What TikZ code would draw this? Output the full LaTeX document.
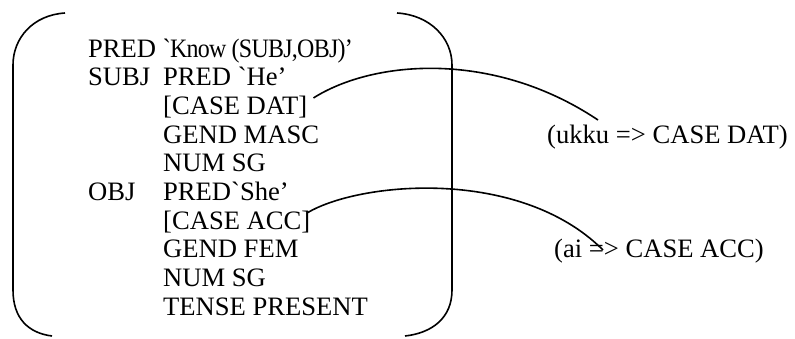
\documentclass[tikz,border=0pt]{standalone}
\usepackage{fontspec}
\usepackage{graphicx}
\newfontfamily\tnr{Liberation Serif}
\newfontfamily\tnrtight{Liberation Serif}[LetterSpace=-3]
\usetikzlibrary{calc}
\tikzset{
  txt/.style={anchor=base west, inner sep=0pt, font=\tnr\fontsize{26.6}{29}\selectfont},
  br/.style={line width=1.6pt},
  conn/.style={line width=1.6pt}
}
\begin{document}
\begin{tikzpicture}[x=1pt,y=-1pt]
\useasboundingbox (0,0) rectangle (795,338);
% left and right brackets
\draw[br] (65,13) .. controls (33,15) and (13,38) .. (13,65) -- (13,290) .. controls (13,318) and (28,333) .. (52,336);
\draw[br] (397,13) .. controls (430,15) and (452,38) .. (452,65) -- (452,290) .. controls (452,318) and (432,333) .. (405,336);
% text rows
\node[txt] (r0) at (88,57) {PRED \scalebox{0.9}[1]{\tnrtight `Know (SUBJ,OBJ)’}};
\node[txt] (subj) at (88,85.7) {SUBJ};
\node[txt] (r1) at (163,85.7) {PRED `He’};
\node[txt] (cdat) at (163,114.4) {[CASE DAT]};
\node[txt] (r3) at (163,143.1) {GEND MASC};
\node[txt] (r4) at (163,171.8) {NUM SG};
\node[txt] (obj) at (88,200.5) {OBJ};
\node[txt] (r5) at (163,200.5) {PRED`She’};
\node[txt] (cacc) at (163,229.2) {[CASE ACC]};
\node[txt] (r7) at (163,257.9) {GEND FEM};
\node[txt] (r8) at (163,286.6) {NUM SG};
\node[txt] (r9) at (163,315.3) {TENSE PRESENT};
% right labels
\node[txt] (ukku) at (547,143.1) {(ukku => CASE DAT)};
\node[txt] (ai) at (554,257.9) {(ai => CASE ACC)};
% connector ends
\coordinate (s1) at ([shift={(6,-9)}]cdat.east);
\coordinate (e1) at (598,120);
\coordinate (s2) at ([shift={(-3,-9)}]cacc.east);
\coordinate (e2) at (603,250);
\draw[conn] (s1) .. controls ($(s1)+(60,-38)$) and ($(s1)+(180,-48)$) .. (e1);
\draw[conn] (s2) .. controls ($(s2)+(52,-31)$) and ($(s2)+(212,-46)$) .. (e2);
\end{tikzpicture}
\end{document}
